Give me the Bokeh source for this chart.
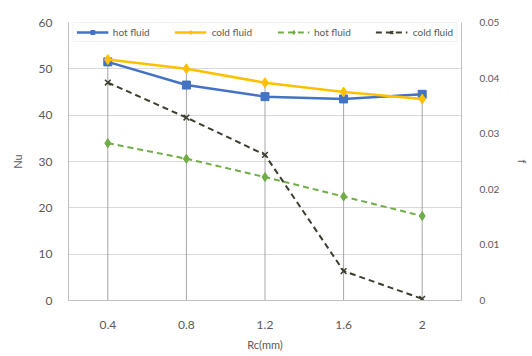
from bokeh.plotting import figure
from bokeh.models import Range1d, LinearAxis, FixedTicker, CustomJSTickFormatter, Legend, LegendItem
from bokeh.embed import file_html
from bokeh.resources import INLINE

rc = [0.4, 0.8, 1.2, 1.6, 2.0]
x_labels = ["0.4", "0.8", "1.2", "1.6", "2"]
nu_hot = [51.5, 46.5, 44.0, 43.5, 44.5]
nu_cold = [52.0, 50.0, 47.0, 45.0, 43.5]
f_hot = [0.0283, 0.0255, 0.0222, 0.0187, 0.0152]
f_cold = [0.0392, 0.0329, 0.0262, 0.0053, 0.0003]

FONT = "Lato"
GRAY = "#595959"

p = figure(width=532, height=356, output_backend="svg", toolbar_location=None,
           x_range=Range1d(0.2, 2.2), y_range=Range1d(0, 60),
           min_border_left=68, min_border_right=62, min_border_top=22, min_border_bottom=56)
p.extra_y_ranges = {"f": Range1d(0, 0.05)}
p.outline_line_color = None
p.background_fill_color = "white"

# drop lines
tops = [max(a, b) for a, b in zip(nu_hot, nu_cold)]
p.segment(x0=rc, y0=[0] * len(rc), x1=rc, y1=tops, line_color="#a6a6a6", line_width=1)

r1 = p.line(rc, nu_hot, line_color="#4472C4", line_width=2.5)
s1 = p.scatter(rc, nu_hot, marker="square", size=8, fill_color="#4472C4", line_color="#4472C4")
r2 = p.line(rc, nu_cold, line_color="#FFC000", line_width=2.5)
s2 = p.scatter(rc, nu_cold, marker="diamond", size=10, fill_color="#FFC000", line_color="#FFC000")
r3 = p.line(rc, f_hot, line_color="#70AD47", line_width=2, line_dash="6 4", y_range_name="f")
s3 = p.scatter(rc, f_hot, marker="diamond", size=9, fill_color="#70AD47", line_color="#70AD47", y_range_name="f")
r4 = p.line(rc, f_cold, line_color="#3b3f2e", line_width=2, line_dash="6 4", y_range_name="f")
s4 = p.scatter(rc, f_cold, marker="x", size=8, line_color="#3b3f2e", line_width=1.5, y_range_name="f")

p.xaxis.ticker = FixedTicker(ticks=rc)
p.xaxis.major_label_overrides = {v: l for v, l in zip(rc, x_labels)}
p.xaxis.axis_label = "Rc(mm)"
p.yaxis.axis_label = "Nu"
p.yaxis.ticker = FixedTicker(ticks=[0, 10, 20, 30, 40, 50, 60])

ax_r = LinearAxis(y_range_name="f", axis_label="f",
                  ticker=FixedTicker(ticks=[0, 0.01, 0.02, 0.03, 0.04, 0.05]),
                  formatter=CustomJSTickFormatter(code="return tick == 0 ? '0' : tick.toFixed(2);"))
p.add_layout(ax_r, "right")

for ax in [p.xaxis[0], p.yaxis[0], ax_r]:
    ax.major_label_text_font = FONT
    ax.major_label_text_color = GRAY
    ax.major_label_text_font_size = "12px"
    ax.axis_label_text_font = FONT
    ax.axis_label_text_color = GRAY
    ax.axis_label_text_font_size = "11px"
    ax.axis_label_text_font_style = "normal"
    ax.axis_line_color = "#bfbfbf"
    ax.major_tick_line_color = None
    ax.minor_tick_line_color = None
    ax.major_label_standoff = 10
p.yaxis.axis_label_standoff = 12
ax_r.major_label_standoff = 12
ax_r.major_label_text_font_size = "10px"
ax_r.axis_label_standoff = 14
p.xaxis.major_label_standoff = 14
p.xaxis.axis_label_standoff = 6

p.xgrid.grid_line_color = None
p.ygrid.grid_line_color = "#d9d9d9"
p.ygrid.ticker = FixedTicker(ticks=[10, 20, 30, 40, 50, 60])

legend = Legend(items=[
    LegendItem(label="hot fluid", renderers=[r1, s1]),
    LegendItem(label="cold fluid", renderers=[r2, s2]),
    LegendItem(label="hot fluid", renderers=[r3, s3]),
    LegendItem(label="cold fluid", renderers=[r4, s4]),
], orientation="horizontal", location="top_center")
legend.label_text_font = FONT
legend.label_text_font_size = "10px"
legend.label_text_color = GRAY
legend.border_line_color = "#e6e6e6"
legend.background_fill_alpha = 1
legend.padding = 3
legend.margin = 0
legend.spacing = 25
legend.glyph_width = 32
legend.glyph_height = 10
legend.label_height = 10
legend.label_standoff = 5
p.add_layout(legend, "center")

open("out.html", "w").write(file_html(p, INLINE))
